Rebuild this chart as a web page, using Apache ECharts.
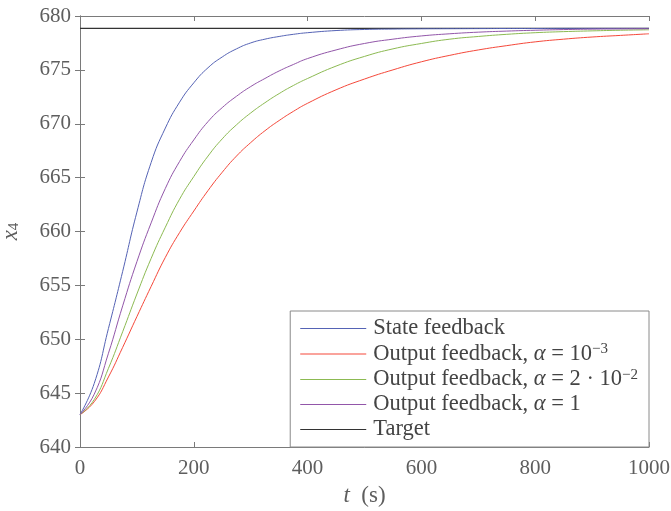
<!DOCTYPE html>
<html>
<head>
<meta charset="utf-8">
<script src="https://cdn.jsdelivr.net/npm/echarts@6/dist/echarts.min.js"></script>
<style>html,body{margin:0;padding:0;background:#fff;}#c{width:671px;height:511px;}</style>
</head>
<body>
<div id="c"></div>
<script>
const times = [0, 25, 50, 75, 100, 125, 150, 175, 200, 225, 250, 275, 300, 325, 350, 375, 400, 450, 500, 550, 600, 650, 700, 750, 800, 850, 900, 950, 1000];
const stateFeedback = [643.0, 645.9, 651.0, 656.3, 661.8, 666.4, 669.6, 672.0, 673.8, 675.2, 676.2, 676.95, 677.5, 677.85, 678.1, 678.3, 678.45, 678.65, 678.75, 678.79, 678.81, 678.82, 678.83, 678.84, 678.84, 678.85, 678.85, 678.85, 678.85];
const outputAlpha1e3 = [643.0, 644.2, 646.5, 649.25, 652.1, 654.9, 657.6, 659.9, 661.9, 663.8, 665.5, 667.0, 668.25, 669.35, 670.3, 671.15, 671.9, 673.15, 674.15, 675.0, 675.75, 676.35, 676.85, 677.25, 677.6, 677.85, 678.05, 678.2, 678.35];
const outputAlpha2e2 = [643.0, 644.4, 647.3, 650.7, 654.2, 657.5, 660.4, 663.0, 665.1, 667.0, 668.6, 669.9, 671.0, 671.95, 672.8, 673.55, 674.2, 675.35, 676.25, 676.95, 677.45, 677.85, 678.1, 678.3, 678.45, 678.55, 678.62, 678.68, 678.72];
const outputAlpha1 = [643.0, 644.9, 648.7, 653.1, 657.2, 660.8, 664.0, 666.5, 668.5, 670.2, 671.5, 672.55, 673.45, 674.2, 674.9, 675.5, 676.05, 676.85, 677.45, 677.85, 678.15, 678.35, 678.5, 678.6, 678.68, 678.74, 678.78, 678.8, 678.82];
const targetTimes = [0, 1000];
const targetValues = [678.85, 678.85];
const seriesNames = ['State feedback', 'Output feedback, α = 10^-3', 'Output feedback, α = 2·10^-2', 'Output feedback, α = 1', 'Target'];
const legendRich = {
  'State feedback': '{n|State feedback}',
  'Output feedback, α = 10^-3': '{n|Output feedback, }{i|α}{n| = 10}{s|−3}',
  'Output feedback, α = 2·10^-2': '{n|Output feedback, }{i|α}{n| = 2 · 10}{s|−2}',
  'Output feedback, α = 1': '{n|Output feedback, }{i|α}{n| = 1}',
  'Target': '{n|Target}'
};
const colors = ['#5563b5', '#f5483a', '#8cba52', '#9256a9', '#333333'];
const yTicks = [640, 645, 650, 655, 660, 665, 670, 675, 680];
const xTicks = [0, 200, 400, 600, 800, 1000];

function pairs(xs, ys) { return xs.map((x, i) => [x, ys[i]]); }
const values = [stateFeedback, outputAlpha1e3, outputAlpha2e2, outputAlpha1];

const FONT = 'Liberation Serif';
const axisColor = '#7a7a7a';
const labelColor = '#5e5e5e';

const chart = echarts.init(document.getElementById('c'), null, {renderer: 'canvas'});
const series = values.map((v, i) => ({
  name: seriesNames[i], type: 'line', data: pairs(times, v), smooth: 0.5,
  symbol: 'none', lineStyle: {width: 1, color: colors[i]}, itemStyle: {color: colors[i]},
  z: 3
}));
series.push({
  name: seriesNames[4], type: 'line', data: pairs(targetTimes, targetValues),
  symbol: 'none', lineStyle: {width: 1.2, color: colors[4]}, itemStyle: {color: colors[4]}, z: 2
});

const baseAxis = {
  axisLine: {show: true, lineStyle: {color: axisColor, width: 1}},
  axisTick: {show: true, inside: true, length: 5, lineStyle: {color: axisColor}},
  splitLine: {show: false}
};

chart.setOption({
  animation: false,
  backgroundColor: '#fff',
  grid: {left: 80, right: 22, top: 16, bottom: 64, containLabel: false, outerBoundsMode: 'none'},
  xAxis: [
    Object.assign({}, baseAxis, {
      type: 'value', min: xTicks[0], max: xTicks[xTicks.length - 1], interval: 200,
      axisLabel: {color: labelColor, fontFamily: FONT, fontSize: 21, margin: 11, formatter: v => String(v)},
      name: '{i|t}{n|  (s)}', nameLocation: 'middle', nameGap: 37,
      nameTextStyle: {rich: {
        i: {fontFamily: FONT, fontStyle: 'italic', fontSize: 23, color: labelColor},
        n: {fontFamily: FONT, fontSize: 23, color: labelColor}
      }}
    }),
    Object.assign({}, baseAxis, {
      type: 'value', position: 'top', min: xTicks[0], max: xTicks[xTicks.length - 1], interval: 200,
      axisLabel: {show: false}
    })
  ],
  yAxis: [
    Object.assign({}, baseAxis, {
      type: 'value', min: yTicks[0], max: yTicks[yTicks.length - 1], interval: 5,
      axisLabel: {color: labelColor, fontFamily: FONT, fontSize: 21, margin: 9},
      name: '{i|x}{s|4}', nameLocation: 'middle', nameGap: 58, nameRotate: 90,
      nameTextStyle: {rich: {
        i: {fontFamily: FONT, fontStyle: 'italic', fontSize: 23, color: labelColor},
        s: {fontFamily: FONT, fontSize: 15, color: labelColor, padding: [8, 0, 0, 0]}
      }}
    }),
    Object.assign({}, baseAxis, {
      type: 'value', position: 'right', min: yTicks[0], max: yTicks[yTicks.length - 1], interval: 5,
      axisLabel: {show: false}
    })
  ],
  legend: {
    data: seriesNames,
    orient: 'vertical', right: 22, bottom: 64,
    backgroundColor: '#fff', borderColor: '#8a8a8a', borderWidth: 1, borderRadius: 0,
    padding: [6, 11, 6, 10],
    icon: 'rect',
    itemWidth: 66, itemHeight: 1, itemGap: 2,
    formatter: name => legendRich[name],
    textStyle: {
      padding: [0, 0, 0, 2],
      rich: {
        n: {fontFamily: FONT, fontSize: 22.5, lineHeight: 24, color: '#444'},
        i: {fontFamily: FONT, fontStyle: 'italic', fontSize: 22.5, lineHeight: 24, color: '#444'},
        s: {fontFamily: FONT, fontSize: 15, lineHeight: 15, verticalAlign: 'top', color: '#444'}
      }
    }
  },
  series: series
});
</script>
</body>
</html>
